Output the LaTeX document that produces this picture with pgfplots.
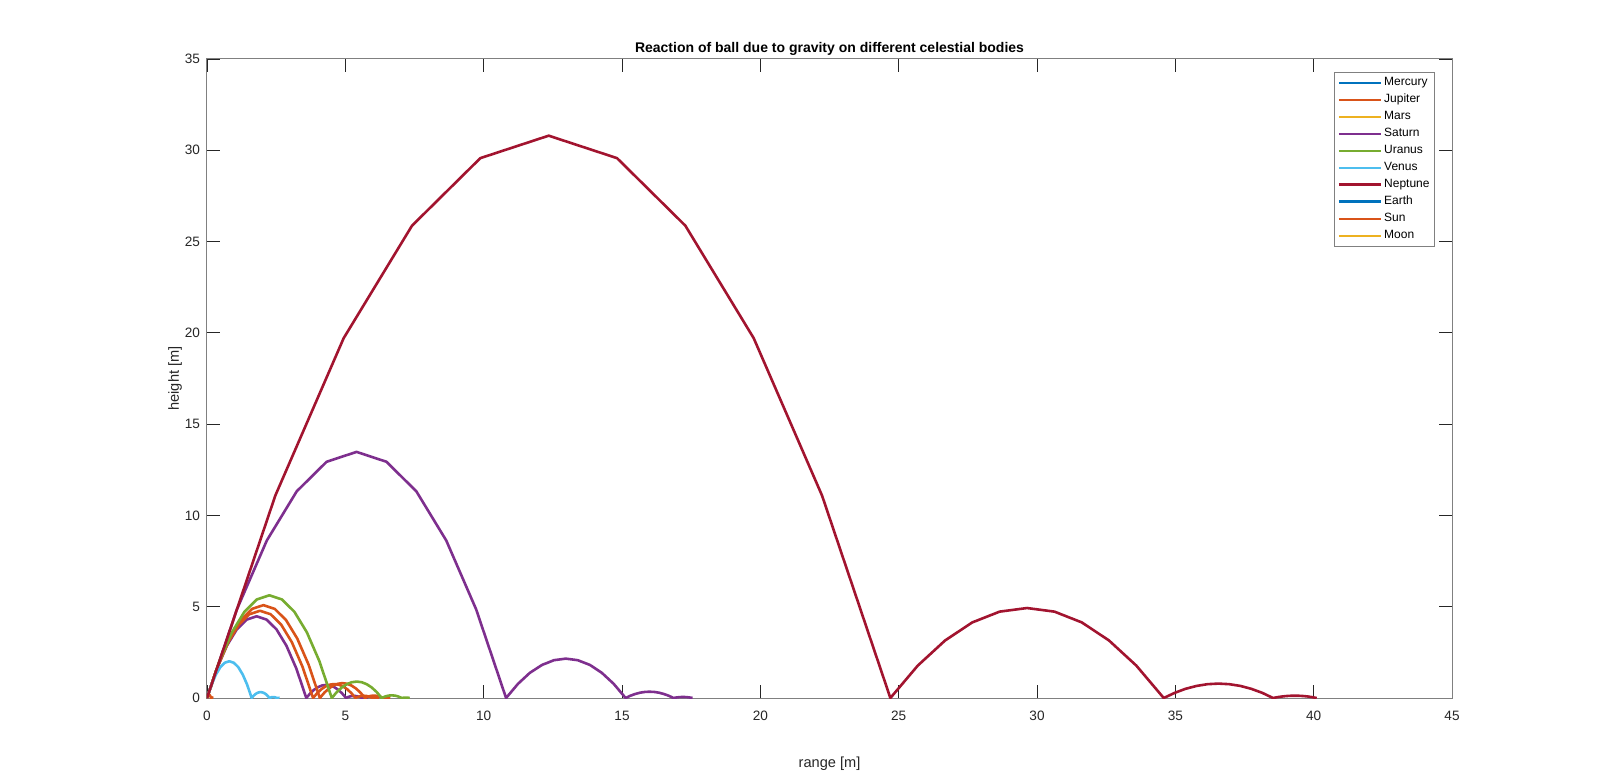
\documentclass[border=0pt]{standalone}
\usepackage{pgfplots}
\pgfplotsset{compat=1.18}
\usepackage{fontspec}
\setmainfont{Liberation Sans}
\definecolor{mblue}{rgb}{0,0.447,0.741}
\definecolor{morange}{rgb}{0.85,0.325,0.098}
\definecolor{myellow}{rgb}{0.929,0.694,0.125}
\definecolor{mpurple}{rgb}{0.494,0.184,0.556}
\definecolor{mgreen}{rgb}{0.466,0.674,0.188}
\definecolor{mlblue}{rgb}{0.301,0.745,0.933}
\definecolor{mdred}{rgb}{0.635,0.078,0.184}
\begin{document}
\begin{tikzpicture}
\begin{axis}[
  scale only axis, width=622.5pt, height=319.5pt,
  xmin=0, xmax=45, ymin=0, ymax=35,
  xtick={0,5,...,45}, ytick={0,5,...,35},
  tick align=inside, major tick length=6.5pt,
  axis line style={black!50, line width=0.5pt},
  tick style={black!85, line width=0.4pt},
  /pgf/number format/assume math mode=true,
  ticklabel style={font=\fontsize{6.8}{8}\selectfont, text=black!85},
  xticklabel style={yshift=-3pt},
  title={\textbf{Reaction of ball due to gravity on different celestial bodies}},
  title style={font=\fontsize{7}{8}\selectfont, at={(axis description cs:0.5,1.0188)}, anchor=center, yshift=-7pt},
  xlabel={range [m]}, ylabel={height [m]},
  label style={font=\fontsize{7.3}{8}\selectfont, text=black!85},
  xlabel style={at={(axis description cs:0.5,-0.1034)}, anchor=center},
  ylabel style={at={(axis description cs:-0.0257,0.5)}, anchor=center},
  legend style={at={(axis description cs:0.9863,0.9797)}, anchor=north east,
    draw=black!50, fill=white, font=\fontsize{6}{7}\selectfont,
    inner sep=1.5pt, row sep=0.8pt, nodes={inner sep=1pt}},
  legend cell align=left,
  legend image code/.code={\draw[#1] (0pt,0pt) -- (21pt,0pt);},
  every axis plot/.append style={line width=1.3pt, line join=round},
]
\coordinate (sw) at (rel axis cs:0,0);
\coordinate (ne) at (rel axis cs:1,1);
\addlegendimage{mblue, line width=1.3pt}\addlegendentry{Mercury}
\addlegendimage{morange, line width=1.3pt}\addlegendentry{Jupiter}
\addlegendimage{myellow, line width=1.3pt}\addlegendentry{Mars}
\addlegendimage{mpurple, line width=1.3pt}\addlegendentry{Saturn}
\addlegendimage{mgreen, line width=1.3pt}\addlegendentry{Uranus}
\addlegendimage{mlblue, line width=1.3pt}\addlegendentry{Venus}
\addlegendimage{mdred, line width=1.3pt}\addlegendentry{Neptune}
\addlegendimage{mblue, line width=1.3pt}\addlegendentry{Earth}
\addlegendimage{morange, line width=1.3pt}\addlegendentry{Sun}
\addlegendimage{myellow, line width=1.3pt}\addlegendentry{Moon}
% purple, range 10.81
\addplot[mpurple, forget plot] coordinates {
(0,0) (1.081,4.853) (2.162,8.627) (3.243,11.32) (4.324,12.94) (5.405,13.48) (6.486,12.94) (7.567,11.32) (8.648,8.627) (9.729,4.853) (10.81,0)
(11.24,0.776) (11.67,1.380) (12.11,1.812) (12.54,2.071) (12.97,2.157) (13.40,2.071) (13.84,1.812) (14.27,1.380) (14.70,0.776) (15.13,0)
(15.30,0.124) (15.48,0.221) (15.65,0.290) (15.82,0.331) (15.99,0.345) (16.17,0.331) (16.34,0.290) (16.51,0.221) (16.69,0.124) (16.86,0)
(16.93,0.0199) (17.00,0.0353) (17.07,0.0464) (17.14,0.0530) (17.21,0.0552) (17.27,0.0530) (17.34,0.0464) (17.41,0.0353) (17.48,0.0199) (17.55,0)
};
% purple, range 3.589
\addplot[mpurple, forget plot] coordinates {
(0,0) (0.3589,1.611) (0.7178,2.864) (1.077,3.759) (1.436,4.296) (1.795,4.475) (2.153,4.296) (2.512,3.759) (2.871,2.864) (3.230,1.611) (3.589,0)
(3.733,0.258) (3.876,0.458) (4.020,0.601) (4.163,0.687) (4.307,0.716) (4.450,0.687) (4.594,0.601) (4.737,0.458) (4.881,0.258) (5.025,0)
(5.082,0.0413) (5.140,0.0733) (5.197,0.0963) (5.255,0.110) (5.312,0.1146) (5.369,0.110) (5.427,0.0963) (5.484,0.0733) (5.542,0.0413) (5.599,0)
(5.622,0.0066) (5.645,0.0117) (5.668,0.0154) (5.691,0.0176) (5.714,0.0183) (5.737,0.0176) (5.760,0.0154) (5.783,0.0117) (5.806,0.0066) (5.829,0)
};
% orange, range 3.833
\addplot[morange, forget plot] coordinates {
(0,0) (0.3833,1.720) (0.7666,3.059) (1.150,4.014) (1.533,4.588) (1.917,4.779) (2.300,4.588) (2.683,4.014) (3.066,3.059) (3.450,1.720) (3.833,0)
(3.986,0.275) (4.140,0.489) (4.293,0.642) (4.446,0.734) (4.600,0.765) (4.753,0.734) (4.906,0.642) (5.060,0.489) (5.213,0.275) (5.366,0)
(5.427,0.0440) (5.489,0.0783) (5.550,0.1027) (5.611,0.1174) (5.673,0.1223) (5.734,0.1174) (5.795,0.1027) (5.856,0.0783) (5.918,0.0440) (5.979,0)
(6.004,0.0071) (6.028,0.0125) (6.053,0.0165) (6.077,0.0188) (6.102,0.0196) (6.126,0.0188) (6.151,0.0165) (6.175,0.0125) (6.200,0.0071) (6.224,0)
};
% orange, range 4.079
\addplot[morange, forget plot] coordinates {
(0,0) (0.4079,1.831) (0.8158,3.255) (1.224,4.272) (1.632,4.883) (2.040,5.086) (2.447,4.883) (2.855,4.272) (3.263,3.255) (3.671,1.831) (4.079,0)
(4.242,0.293) (4.405,0.521) (4.569,0.684) (4.732,0.781) (4.895,0.814) (5.058,0.781) (5.221,0.684) (5.385,0.521) (5.548,0.293) (5.711,0)
(5.776,0.0469) (5.842,0.0833) (5.907,0.1094) (5.972,0.125) (6.037,0.1302) (6.102,0.125) (6.168,0.1094) (6.233,0.0833) (6.298,0.0469) (6.364,0)
(6.390,0.0075) (6.416,0.0133) (6.442,0.0175) (6.468,0.0200) (6.494,0.0208) (6.520,0.0200) (6.546,0.0175) (6.572,0.0133) (6.599,0.0075) (6.625,0)
};
% green, range 4.511
\addplot[mgreen, forget plot] coordinates {
(0,0) (0.4511,2.025) (0.9022,3.600) (1.353,4.725) (1.804,5.400) (2.256,5.625) (2.707,5.400) (3.158,4.725) (3.609,3.600) (4.060,2.025) (4.511,0)
(4.691,0.324) (4.872,0.576) (5.052,0.756) (5.233,0.864) (5.413,0.900) (5.593,0.864) (5.774,0.756) (5.954,0.576) (6.135,0.324) (6.315,0)
(6.387,0.0518) (6.460,0.0922) (6.532,0.121) (6.604,0.138) (6.676,0.144) (6.748,0.138) (6.820,0.121) (6.893,0.0922) (6.965,0.0518) (7.037,0)
(7.066,0.0083) (7.095,0.0147) (7.124,0.0193) (7.152,0.0221) (7.181,0.0230) (7.210,0.0221) (7.239,0.0193) (7.268,0.0147) (7.297,0.0083) (7.326,0)
};
% light blue, range 1.614
\addplot[mlblue, forget plot] coordinates {
(0,0) (0.1614,0.7247) (0.3228,1.288) (0.4842,1.691) (0.6456,1.932) (0.807,2.013) (0.9684,1.932) (1.130,1.691) (1.291,1.288) (1.453,0.7247) (1.614,0)
(1.679,0.116) (1.743,0.206) (1.808,0.271) (1.872,0.309) (1.937,0.322) (2.002,0.309) (2.066,0.271) (2.131,0.206) (2.195,0.116) (2.260,0)
(2.286,0.0185) (2.312,0.033) (2.337,0.0433) (2.363,0.0494) (2.389,0.0515) (2.415,0.0494) (2.441,0.0433) (2.467,0.033) (2.492,0.0185) (2.518,0)
(2.528,0.003) (2.539,0.0052) (2.549,0.0069) (2.559,0.0079) (2.570,0.0082) (2.580,0.0079) (2.590,0.0069) (2.601,0.0052) (2.611,0.003) (2.621,0)
};
% orange, range 0.146
\addplot[morange, forget plot] coordinates {
(0,0) (0.0146,0.0655) (0.0292,0.1165) (0.0438,0.1529) (0.0584,0.1747) (0.073,0.182) (0.0876,0.1747) (0.1022,0.1529) (0.1168,0.1165) (0.1314,0.0655) (0.146,0)
(0.1518,0.0105) (0.1577,0.0186) (0.1635,0.0245) (0.1694,0.0280) (0.1752,0.0291) (0.181,0.0280) (0.1869,0.0245) (0.1927,0.0186) (0.1986,0.0105) (0.2044,0)
(0.2103,0.0034) (0.2161,0.0047) (0.2220,0.0034) (0.2278,0)
};
% dark red, range 24.7
\addplot[mdred, forget plot] coordinates {
(0,0) (2.47,11.09) (4.94,19.71) (7.41,25.87) (9.88,29.57) (12.35,30.8) (14.82,29.57) (17.29,25.87) (19.76,19.71) (22.23,11.09) (24.7,0)
(25.69,1.774) (26.68,3.154) (27.66,4.140) (28.65,4.731) (29.64,4.928) (30.63,4.731) (31.62,4.140) (32.60,3.154) (33.59,1.774) (34.58,0)
(34.98,0.284) (35.37,0.505) (35.77,0.662) (36.16,0.757) (36.56,0.789) (36.95,0.757) (37.35,0.662) (37.74,0.505) (38.14,0.284) (38.53,0)
(38.69,0.0454) (38.85,0.0808) (39.00,0.1060) (39.16,0.1212) (39.32,0.1262) (39.48,0.1212) (39.64,0.1060) (39.80,0.0808) (39.95,0.0454) (40.11,0)
};
\end{axis}
\pgfresetboundingbox
\path[use as bounding box] ([shift={(-103.5pt,-42.5pt)}]sw) rectangle ([shift={(74pt,29.5pt)}]ne);
\end{tikzpicture}
\end{document}
